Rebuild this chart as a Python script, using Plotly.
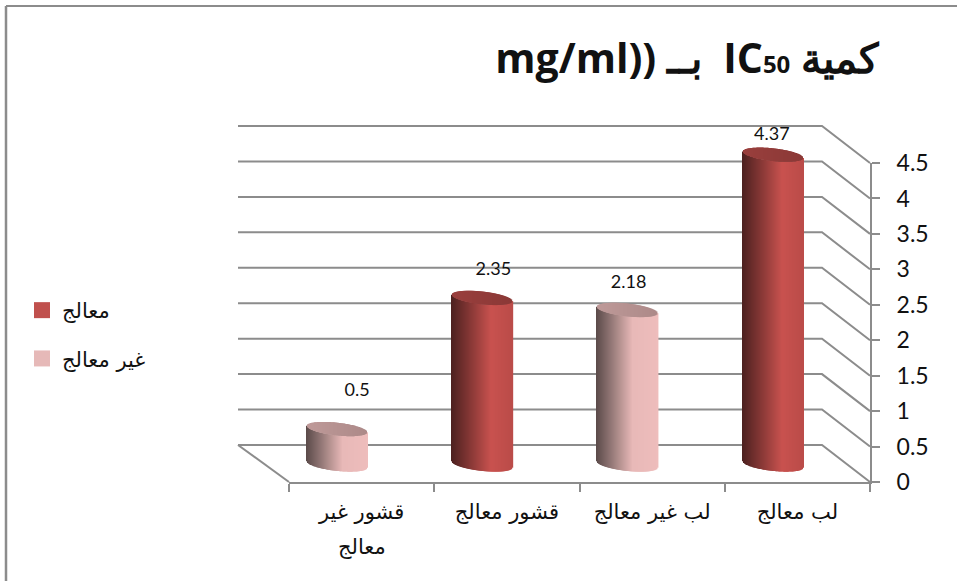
import numpy as np
import plotly.graph_objects as go

# Chart content
category_labels = ["قشور غير", "قشور معالج", "لب غير معالج", "لب معالج"]
first_label_wrap = "معالج"
ic50_values = [0.5, 2.35, 2.18, 4.37]
is_treated = [False, True, False, True]
value_ticks = [0, 0.5, 1, 1.5, 2, 2.5, 3, 3.5, 4, 4.5]
value_tick_labels = ["0", "0.5", "1", "1.5", "2", "2.5", "3", "3.5", "4", "4.5"]
legend_names = ["معالج", "غير معالج"]
title_text = 'mg/ml)) بــ  IC<span style="font-size:24px">50</span> كمية'

# Page and plot-box geometry in pixels
W, H = 957, 581
PX_LEFT, PX_RIGHT = 289, 870
PX_ZERO, PX_TOP = 482, 163
PX_PER_CAT = (PX_RIGHT - PX_LEFT) / 4
PX_PER_VAL = (PX_ZERO - PX_TOP) / 4.5

# Full-page axis ranges that share the scale of the visible axes
PAGE_X = [-PX_LEFT / PX_PER_CAT, (W - PX_LEFT) / PX_PER_CAT]
PAGE_Y = [-(H - PX_ZERO) / PX_PER_VAL, PX_ZERO / PX_PER_VAL]

# Oblique depth of the chart box, in axis units
DEPTH_X = 48 / PX_PER_CAT
DEPTH_Y = 37 / PX_PER_VAL
BACK_LEFT = -(PX_LEFT - 238) / PX_PER_CAT

# Where the cylinders stand on the floor
BAR_SHIFT_X = -24.5 / PX_PER_CAT
BAR_FLOOR = 17.5 / PX_PER_VAL
RADIUS_X = 30 / PX_PER_CAT
RADIUS_Y = 6.4 / PX_PER_VAL
TILT = 3.2 / PX_PER_VAL

# Label nudges above and beside each cylinder lid
LABEL_DX = [20 / PX_PER_CAT, 11 / PX_PER_CAT, 1 / PX_PER_CAT, -1 / PX_PER_CAT]
LABEL_DY = [38 / PX_PER_VAL, 27 / PX_PER_VAL, 26 / PX_PER_VAL, 19 / PX_PER_VAL]

GRID = "#8c8c8c"
BODY_STOPS = {
    True: [(0.0, "#4d2120"), (0.3, "#853735"), (0.66, "#c9524f"), (1.0, "#bb4c49")],
    False: [(0.0, "#5c4b4a"), (0.3, "#a08280"), (0.6, "#e8b9b8"), (1.0, "#eebdbc")],
}
LID_STOPS = {
    True: [(0.0, "#9a3f3d"), (1.0, "#8b3937")],
    False: [(0.0, "#bf9a99"), (1.0, "#ad8a89")],
}
LEGEND_COLORS = ["#c0504d", "#e6b9b8"]


def ramp(stops, t):
    xs = [s[0] for s in stops]
    rgb = [[int(s[1][i:i + 2], 16) for s in stops] for i in (1, 3, 5)]
    return "rgb(%d,%d,%d)" % tuple(np.interp(t, xs, c) for c in rgb)


fig = go.Figure()

# Back wall grid, running round to the front axis along the side wall
for v in value_ticks:
    fig.add_trace(go.Scatter(
        x=[BACK_LEFT, 4 - DEPTH_X, 4],
        y=[v + DEPTH_Y, v + DEPTH_Y, v],
        xaxis="x2", yaxis="y2",
        mode="lines", line=dict(color=GRID, width=2),
        showlegend=False, hoverinfo="skip",
    ))

# Left edge of the floor
fig.add_trace(go.Scatter(
    x=[BACK_LEFT, 0], y=[DEPTH_Y, 0],
    xaxis="x2", yaxis="y2",
    mode="lines", line=dict(color=GRID, width=2),
    showlegend=False, hoverinfo="skip",
))

# Cylinders, each built from one-pixel vertical strips, on a layer above the grid
t = np.linspace(0, 1, 61)
u = 2 * t - 1
half = RADIUS_Y * np.sqrt(np.clip(1 - u ** 2, 0, 1))
slant = -TILT * u
for i, (value, treated) in enumerate(zip(ic50_values, is_treated)):
    cx = i + 0.5 + BAR_SHIFT_X + u * RADIUS_X
    low = BAR_FLOOR + slant - half
    fig.add_trace(go.Bar(
        x=cx, y=np.full_like(t, value), base=low,
        xaxis="x3", yaxis="y3",
        width=1.6 / PX_PER_CAT,
        marker=dict(color=[ramp(BODY_STOPS[treated], s) for s in t], line=dict(width=0)),
        showlegend=False, hoverinfo="skip",
    ))
    fig.add_trace(go.Bar(
        x=cx, y=2 * half, base=low + value,
        xaxis="x3", yaxis="y3",
        width=1.6 / PX_PER_CAT,
        marker=dict(color=[ramp(LID_STOPS[treated], s) for s in t], line=dict(width=0)),
        showlegend=False, hoverinfo="skip",
    ))

# Value labels
fig.add_trace(go.Scatter(
    x=[i + 0.5 + BAR_SHIFT_X + dx for i, dx in enumerate(LABEL_DX)],
    y=[v + BAR_FLOOR + dy for v, dy in zip(ic50_values, LABEL_DY)],
    xaxis="x3", yaxis="y3",
    mode="text", text=[str(v) for v in ic50_values],
    textposition="middle center",
    textfont=dict(family="Lato", size=18, color="#111111"),
    showlegend=False, hoverinfo="skip",
))

# Legend entries, attached to the subplot that carries the visible axes
for name, color in zip(legend_names, LEGEND_COLORS):
    fig.add_trace(go.Scatter(
        x=[None], y=[None], name=name, legendgroup=name, mode="markers",
        marker=dict(symbol="square", size=16, color=color),
    ))

hidden_page_x = dict(domain=[0, 1], range=PAGE_X, visible=False, fixedrange=True)
hidden_page_y = dict(domain=[0, 1], range=PAGE_Y, visible=False, fixedrange=True)

fig.update_layout(
    width=W, height=H,
    margin=dict(l=0, r=0, t=0, b=0, autoexpand=False),
    paper_bgcolor="white", plot_bgcolor="rgba(0,0,0,0)",
    barmode="overlay",
    font=dict(family="DejaVu Sans", color="#111111"),
    title=dict(
        text=title_text, x=879 / W, xanchor="right", y=1 - 59 / H, yanchor="middle",
        font=dict(family="Open Sans", size=41, color="#111111", weight=700),
    ),
    xaxis=dict(
        domain=[PX_LEFT / W, PX_RIGHT / W], range=[0, 4], automargin=False,
        tickmode="array", tickvals=[0.5, 1.5, 2.5, 3.5], ticktext=category_labels,
        ticks="", ticklabelstandoff=10, tickangle=0,
        tickfont=dict(family="DejaVu Sans", size=21, color="#111111"),
        # Tick marks fall on the category boundaries, the labels between them
        minor=dict(tickmode="array", tickvals=[0, 1, 2, 3, 4], ticks="outside",
                   ticklen=8, tickwidth=2, tickcolor=GRID, showgrid=False),
        showline=True, linecolor=GRID, linewidth=2, showgrid=False, zeroline=False,
    ),
    yaxis=dict(
        domain=[1 - PX_ZERO / H, 1 - PX_TOP / H], range=[0, 4.5], automargin=False,
        side="right", anchor="x", tickmode="array",
        tickvals=value_ticks, ticktext=value_tick_labels,
        ticks="outside", ticklen=8, tickwidth=2, tickcolor=GRID, ticklabelstandoff=12,
        showline=True, linecolor=GRID, linewidth=2, showgrid=False, zeroline=False,
        tickfont=dict(family="Lato", size=23, color="#111111"),
    ),
    xaxis2=dict(anchor="y2", **hidden_page_x),
    yaxis2=dict(anchor="x2", **hidden_page_y),
    xaxis3=dict(anchor="y3", **hidden_page_x),
    yaxis3=dict(anchor="x3", **hidden_page_y),
    legend=dict(
        x=22 / W, xanchor="left", y=1 - 290 / H, yanchor="top",
        tracegroupgap=18, itemsizing="trace", itemwidth=30,
        font=dict(family="DejaVu Sans", size=21, color="#111111"),
        bgcolor="rgba(0,0,0,0)",
    ),
    annotations=[
        # Second line of the first category label
        dict(text=first_label_wrap, xref="x", x=0.5, yref="paper", y=1 - 547 / H,
             yanchor="middle", showarrow=False,
             font=dict(family="DejaVu Sans", size=21, color="#111111")),
    ],
    shapes=[
        dict(type="line", xref="paper", yref="paper", x0=6 / W, x1=1, y0=1 - 6 / H, y1=1 - 6 / H,
             line=dict(color=GRID, width=2)),
        dict(type="line", xref="paper", yref="paper", x0=6 / W, x1=6 / W, y0=0, y1=1 - 6 / H,
             line=dict(color=GRID, width=2.5)),
    ],
)

fig.write_html("out.html")
